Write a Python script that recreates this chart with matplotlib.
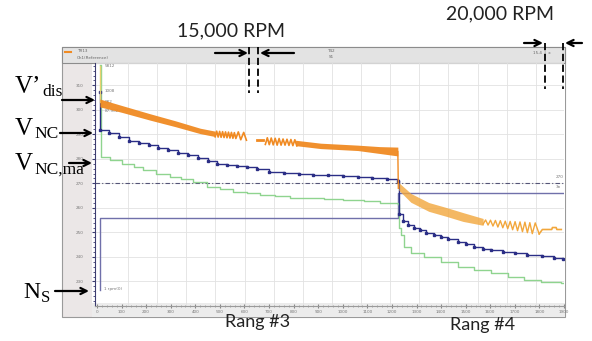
import numpy as np
import matplotlib.pyplot as plt
from matplotlib.patches import Rectangle

plt.rcParams["mathtext.fontset"] = "stix"

W, H = 592, 341

# ---------------- data: x = sample index, y = volts ----------------
# V'dis (orange), range #3 -- thick noisy band, given as upper / lower edge
dis3a_x = [12, 100, 216, 320, 420, 481]
dis3a_hi = [304.4, 301.8, 298.4, 295.5, 292.5, 291.3]
dis3a_lo = [301.2, 299.0, 295.8, 293.1, 290.3, 289.1]
dis3_zz1_x = [481, 487, 493, 499, 505, 511, 517, 523, 529, 535, 541, 547,
              553, 559, 565, 575, 585, 597, 608]
dis3_zz1_y = [289.0, 291.3, 288.9, 291.2, 288.8, 291.1, 288.7, 291.0, 288.6,
              290.9, 288.5, 290.8, 288.4, 290.7, 288.3, 291.0, 287.8, 290.8, 287.6]
dis3_dash_x = [652, 676]
dis3_dash_y = [287.6, 287.6]
dis3_zz2_x = [685, 693, 701, 709, 717, 725, 733, 741, 749, 757, 765, 773,
              781, 789, 797, 805, 813]
dis3_zz2_y = [285.9, 288.6, 285.8, 288.5, 285.7, 288.4, 285.6, 288.3, 285.6,
              288.1, 285.6, 288.0, 285.5, 287.9, 285.4, 287.8, 285.3]
dis3b_x = [808, 910, 1061, 1150, 1224]
dis3b_hi = [287.6, 286.4, 285.6, 285.0, 284.8]
dis3b_lo = [285.4, 284.2, 283.4, 282.2, 281.2]
dis_spike_x = [12, 12]
dis_spike_y = [318.0, 303.0]
dis_drop_x = [1224, 1226]
dis_drop_y = [283.0, 268.0]

# V'dis, range #4
dis4_x = [1228, 1277, 1350, 1420, 1489, 1571]
dis4_hi = [270.3, 265.9, 262.2, 260.2, 258.1, 255.7]
dis4_lo = [267.2, 262.3, 258.6, 256.6, 254.5, 252.9]
dis4_zz_x = [1571, 1581, 1591, 1601, 1611, 1621, 1631, 1641, 1651, 1661, 1671,
             1681, 1691, 1701, 1711, 1721, 1731, 1741, 1751, 1761, 1771, 1783, 1799]
dis4_zz_y = [253.4, 255.1, 253.0, 255.0, 252.6, 254.9, 252.2, 254.8, 251.9,
             254.6, 251.5, 254.5, 251.1, 254.4, 250.7, 254.3, 250.3, 254.2,
             249.9, 254.0, 249.5, 253.9, 249.4]
dis4_tail_x = [1799, 1812, 1850, 1853, 1868, 1871, 1889]
dis4_tail_y = [249.4, 251.2, 251.2, 252.0, 252.0, 251.2, 251.2]
dis_edge_x = [1903, 1903]
dis_edge_y = [271.5, 283.7]

# V_NC (navy, stepped with markers)
nc3_x = [12, 12, 50, 90, 130, 170, 210, 250, 290, 330, 370, 410, 450, 490, 530,
         570, 610, 650, 700, 760, 820, 880, 940, 1000, 1060, 1120, 1180, 1224]
nc3_y = [307.3, 291.8, 290.4, 288.9, 287.4, 286.5, 285.5, 284.5, 283.5, 282.5,
         281.4, 280.3, 279.1, 278.0, 277.6, 277.1, 276.6, 275.9, 274.6, 274.4,
         274.0, 273.6, 273.3, 273.0, 272.8, 272.4, 271.8, 271.0]
nc4_x = [1224, 1230, 1245, 1265, 1290, 1315, 1340, 1370, 1400, 1430, 1470, 1500,
         1535, 1570, 1605, 1650, 1700, 1750, 1810, 1860, 1897, 1903]
nc4_y = [271.0, 257.5, 254.5, 253.0, 251.8, 250.8, 249.8, 249.0, 248.2, 247.3,
         246.1, 245.2, 244.1, 243.4, 242.8, 242.2, 241.6, 241.0, 240.4, 239.6,
         239.2, 262.0]

# V_NC,ma (light green, stepped)
ma3_x = [12, 16, 53, 100, 150, 188, 240, 298, 340, 392, 449, 500, 555, 610, 665,
         725, 787, 850, 922, 1000, 1085, 1150, 1224]
ma3_y = [318.3, 280.8, 279.6, 278.0, 276.6, 275.5, 274.0, 272.6, 271.8, 270.6,
         268.6, 267.6, 266.5, 265.9, 265.3, 264.7, 264.1, 263.9, 263.7, 263.3,
         262.8, 262.2, 261.6]
ma4_x = [1224, 1230, 1236, 1248, 1277, 1330, 1399, 1469, 1534, 1603, 1673, 1738,
         1807, 1889, 1903]
ma4_y = [261.6, 252.0, 249.0, 244.1, 241.6, 240.0, 238.0, 235.9, 234.7, 233.5,
         231.8, 230.6, 229.8, 229.4, 246.0]

# N_S (speed, slate)
ns_x = [12, 12, 1226, 1226, 1903]
ns_y = [226.5, 255.9, 255.9, 266.1, 266.1]

ref_level = 270
y_ticks = [230, 240, 250, 260, 270, 280, 290, 300, 310]

c_or3 = "#f08a22"
c_or4 = "#f2a73c"
c_nc = "#2b2e86"
c_ma = "#8fd48f"
c_ns = "#7070aa"

fig = plt.figure(figsize=(W / 100, H / 100), dpi=100)

# background panels of the scope window (pixel coords)
bg = fig.add_axes([0, 0, 1, 1], label="bg", zorder=0)
bg.set_xlim(0, W)
bg.set_ylim(H, 0)
bg.axis("off")
bg.add_patch(Rectangle((62, 47), 503, 270, fc="#ebe7e7", ec="#9a9a9a", lw=0.8))
bg.add_patch(Rectangle((92, 63), 473, 240, fc="white", ec="none"))
bg.add_patch(Rectangle((92, 303), 473, 14, fc="#ececec", ec="none"))
bg.add_patch(Rectangle((62, 47), 503, 16, fc="#e3e3e3", ec="#8c8c8c", lw=0.8))
bg.plot([65, 71], [52, 52], color=c_or3, lw=1.5)
bg.text(77, 51.5, "TR13", fontsize=3, color="#666", va="center")
bg.text(77, 58, "Ch1(Reference)", fontsize=3, color="#666", va="center")
bg.text(327, 51.5, "T42", fontsize=3, color="#666", va="center")
bg.text(329, 57.5, "S1", fontsize=3, color="#666", va="center")
bg.text(533, 52, "15.4  |  x", fontsize=3, color="#666", va="center")

# main plot
ax = fig.add_axes([95 / W, 1 - 306 / H, 469 / W, 243 / H], zorder=1)
ax.patch.set_alpha(0)
ax.set_xlim(-8, 1900)
ax.set_ylim(220, 319.1)

for gx in 8 + 118.5 * np.arange(1, 16):
    ax.axvline(gx, color="#e2e2e2", lw=0.6, zorder=0)
for gy in y_ticks + [319]:
    ax.axhline(gy, color="#e2e2e2", lw=0.6, zorder=0)
ax.axhline(ref_level, color="#555577", lw=0.8, ls=(0, (4, 2, 1, 2)), zorder=1)

# N_S
ax.plot(ns_x, ns_y, color=c_ns, lw=1.0, zorder=2)
# V_NC,ma
ax.plot(ma3_x, ma3_y, color=c_ma, lw=1.0, drawstyle="steps-post", zorder=2)
ax.plot(ma4_x, ma4_y, color=c_ma, lw=1.0, drawstyle="steps-post", zorder=2)
# V_NC
ax.plot(nc3_x, nc3_y, color=c_nc, lw=1.0, drawstyle="steps-post",
        marker="s", ms=2.0, zorder=3)
ax.plot(nc4_x, nc4_y, color=c_nc, lw=1.0, drawstyle="steps-post",
        marker="s", ms=2.0, markevery=list(range(1, len(nc4_x) - 1)), zorder=3)
# V'dis
ax.plot(dis_spike_x, dis_spike_y, color="#e8d070", lw=1.0, zorder=4)
ax.fill_between(dis3a_x, dis3a_lo, dis3a_hi, color=c_or3, lw=0, alpha=0.95, zorder=4)
ax.plot(dis3_zz1_x, dis3_zz1_y, color=c_or3, lw=1.2, zorder=4)
ax.plot(dis3_dash_x, dis3_dash_y, color=c_or3, lw=2.0, zorder=4)
ax.plot(dis3_zz2_x, dis3_zz2_y, color=c_or3, lw=1.2, zorder=4)
ax.fill_between(dis3b_x, dis3b_lo, dis3b_hi, color=c_or3, lw=0, alpha=0.95, zorder=4)
ax.plot(dis_drop_x, dis_drop_y, color=c_or3, lw=1.0, zorder=4)
ax.fill_between(dis4_x, dis4_lo, dis4_hi, color=c_or4, lw=0, alpha=0.8, zorder=4)
ax.plot(dis4_zz_x, dis4_zz_y, color=c_or4, lw=1.0, zorder=4)
ax.plot(dis4_tail_x, dis4_tail_y, color=c_or4, lw=1.2, zorder=4)
ax.plot(dis_edge_x, dis_edge_y, color=c_or4, lw=1.2, zorder=4)

# small read-outs
ro = dict(fontsize=3, color="#777777", va="center")
ax.text(30, 318, "5812", **ro)
ax.text(30, 307.5, "1008", **ro)
ax.text(30, 303, "982", **ro)
ax.text(30, 299.5, "87.902", **ro)
ax.text(30, 226.8, "1 rpm(0)", **ro)
ax.text(1868, ref_level + 2.6, "270", **ro)
ax.text(1868, ref_level - 1.6, "3n", **ro)

ax.spines["top"].set_visible(False)
ax.spines["right"].set_visible(False)
ax.spines["left"].set_color("#3d3d70")
ax.spines["bottom"].set_color("#9a9a9a")
ax.set_xticks(np.arange(0, 1901, 100))
ax.set_xticklabels([str(v) for v in range(0, 1901, 100)])
ax.set_xticks(np.arange(0, 1901, 20), minor=True)
ax.set_yticks(y_ticks)
ax.set_yticklabels([str(v) for v in y_ticks])
ax.set_yticks(np.arange(222, 319, 2), minor=True)
ax.tick_params(axis="both", labelsize=3, labelcolor="#777777", pad=1.5)
ax.tick_params(axis="x", which="major", length=2.5, color="#888888", direction="inout")
ax.tick_params(axis="x", which="minor", length=1.2, color="#999999", direction="inout")
ax.tick_params(axis="y", which="major", length=2.5, color="#3d3d70", pad=6)
ax.tick_params(axis="y", which="minor", length=1.2, color="#3d3d70")

# annotation layer (pixel coords)
ov = fig.add_axes([0, 0, 1, 1], label="ov", zorder=5)
ov.patch.set_alpha(0)
ov.set_xlim(0, W)
ov.set_ylim(H, 0)
ov.axis("off")

arrow = dict(arrowstyle="->", lw=1.6, color="black", mutation_scale=11,
             shrinkA=0, shrinkB=0)


def harrow(x0, x1, y):
    ov.annotate("", xy=(x1, y), xytext=(x0, y), arrowprops=arrow)


dash = dict(color="black", lw=1.3, ls=(0, (4, 2)))

sans = "Lato"
ov.text(231, 31, "15,000 RPM", fontsize=14, family=sans, color="#222",
        ha="center", va="center")
harrow(215, 248, 53)
harrow(294, 260, 53)
ov.plot([249, 249], [47, 93], **dash)
ov.plot([258, 258], [47, 93], **dash)

ov.text(500, 14, "20,000 RPM", fontsize=14, family=sans, color="#222",
        ha="center", va="center")
harrow(524, 543, 43)
harrow(582, 565, 43)
ov.plot([545, 545], [43, 89], **dash)
ov.plot([563, 563], [43, 89], **dash)

ov.text(258, 322, "Rang #3", fontsize=13, family=sans, color="#222",
        ha="center", va="center")
ov.text(483, 325, "Rang #4", fontsize=13, family=sans, color="#222",
        ha="center", va="center")

serif = "Liberation Serif"
ov.text(15, 93, "V\u2019", fontsize=18, family=serif, va="baseline")
ov.text(42, 96, "dis", fontsize=12.5, family=serif, va="baseline")
harrow(62, 95, 100)

ov.text(15, 135, "V", fontsize=18, family=serif, va="baseline")
ov.text(34, 138, "NC", fontsize=12.5, family=serif, va="baseline")
harrow(60, 93, 133)

ov.text(15, 170, "V", fontsize=18, family=serif, va="baseline")
ov.text(34, 174, "NC,ma", fontsize=12.5, family=serif, va="baseline")
harrow(69, 92, 163)

ov.text(23, 298, "N", fontsize=17, family=serif, va="baseline")
ov.text(41, 302, "S", fontsize=12, family=serif, va="baseline")
harrow(55, 89, 291)

fig.savefig("out.png", dpi=100)
